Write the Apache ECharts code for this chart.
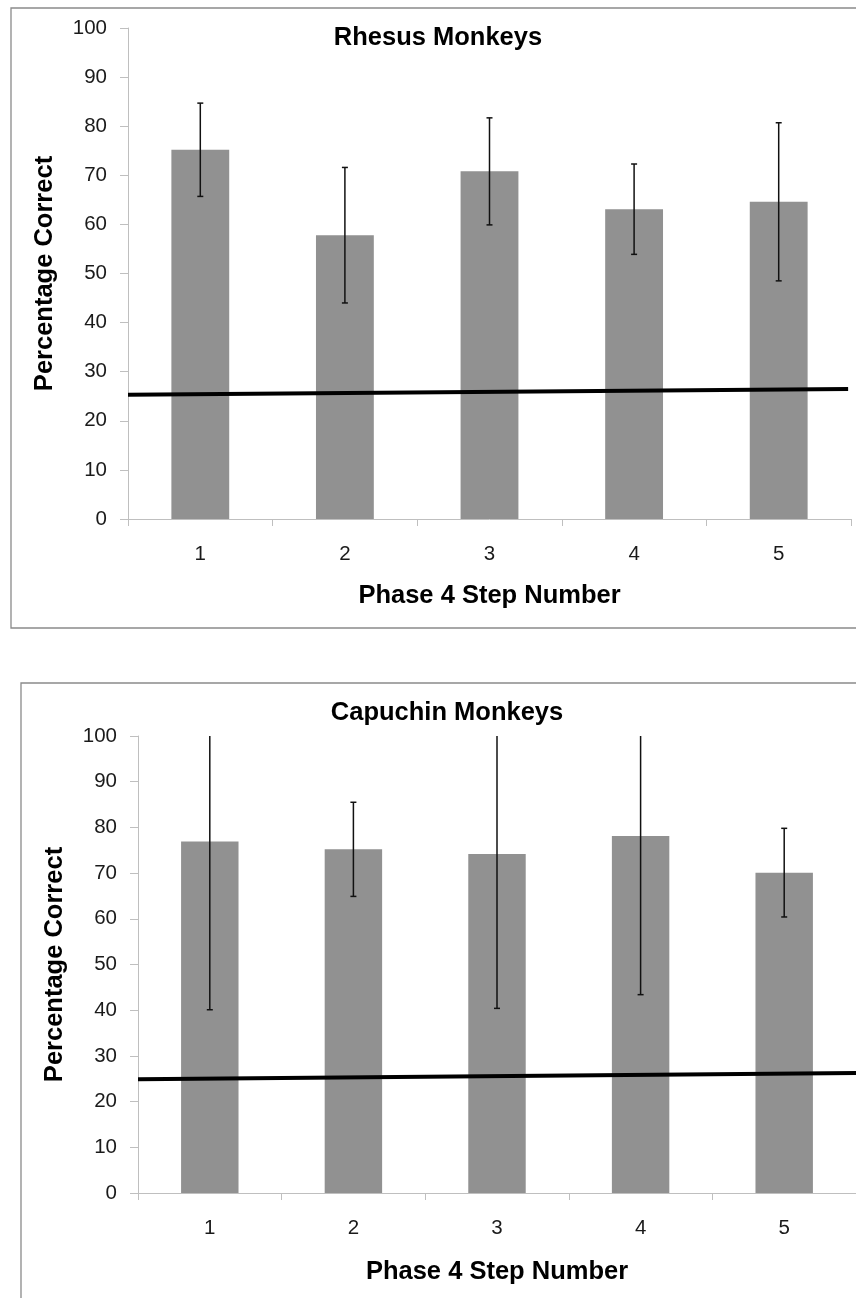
<!DOCTYPE html>
<html><head><meta charset="utf-8">
<script src="https://cdn.jsdelivr.net/npm/echarts@6/dist/echarts.min.js"></script>
<style>html,body{margin:0;padding:0;background:#fff}#c{width:856px;height:1298px}</style>
</head><body><div id="c"></div>
<script>
const steps = ['1', '2', '3', '4', '5'];
const rhesusMean = [75.2, 57.8, 70.8, 63.1, 64.6];
const rhesusErr = [9.5, 13.8, 10.9, 9.2, 16.1];
const capuchinMean = [76.9, 75.2, 74.2, 78.1, 70.1];
const capuchinErr = [36.8, 10.3, 33.8, 34.7, 9.7];
const rhesusChance = [[0, 25.3], [4.98, 26.5]];
const capuchinChance = [[0, 24.9], [5, 26.25]];
const yMin = 0, yMax = 100, yStep = 10;

const FONT = 'Liberation Sans';
const AX = '#bfbfbf';

function errData(mean, err) {
  return mean.map((m, i) => [i, m - err[i], m + err[i]]);
}

function errorItem(params, api) {
  const x = api.value(0), lo = api.value(1), hi = api.value(2);
  const pLo = api.coord([x, lo]);
  const pHi = api.coord([x, hi]);
  const cs = params.coordSys;
  const top = cs.y, bottom = cs.y + cs.height;
  const capHi = pHi[1] >= top - 0.5;
  const capLo = pLo[1] <= bottom + 0.5;
  const yHi = Math.max(pHi[1], top);
  const yLo = Math.min(pLo[1], bottom);
  const cx = pHi[0];
  const st = { stroke: '#111', lineWidth: 1.5 };
  const ch = [{ type: 'line', shape: { x1: cx, y1: yHi, x2: cx, y2: yLo }, style: st }];
  if (capHi) ch.push({ type: 'line', shape: { x1: cx - 3, y1: yHi, x2: cx + 3, y2: yHi }, style: st });
  if (capLo) ch.push({ type: 'line', shape: { x1: cx - 3, y1: yLo, x2: cx + 3, y2: yLo }, style: st });
  return { type: 'group', children: ch };
}

function catAxis(gi) {
  return {
    type: 'category', gridIndex: gi, data: steps,
    name: 'Phase 4 Step Number', nameLocation: 'middle', nameGap: gi === 0 ? 64 : 66,
    nameTextStyle: { fontFamily: FONT, fontWeight: 'bold', fontSize: 25.5, color: '#000' },
    axisLine: { show: true, lineStyle: { color: AX, width: 1 } },
    axisTick: { show: true, alignWithLabel: false, length: 7, lineStyle: { color: AX } },
    axisLabel: { margin: 25, fontFamily: FONT, fontSize: 20.5, color: '#1a1a1a' },
    splitLine: { show: false }
  };
}
function valAxis(gi) {
  return {
    type: 'value', gridIndex: gi, min: yMin, max: yMax, interval: yStep,
    name: 'Percentage Correct', nameLocation: 'middle', nameGap: 70, nameRotate: 90,
    nameTextStyle: { fontFamily: FONT, fontWeight: 'bold', fontSize: 25.5, color: '#000' },
    axisLine: { show: true, lineStyle: { color: AX, width: 1 } },
    axisTick: { show: true, length: 8, lineStyle: { color: AX } },
    axisLabel: { margin: 21, fontFamily: FONT, fontSize: 20.5, color: '#1a1a1a' },
    splitLine: { show: false }
  };
}
function hiddenX(gi) {
  return { type: 'value', gridIndex: gi, min: 0, max: 5, show: false };
}

const chart = echarts.init(document.getElementById('c'), null, { renderer: 'canvas' });
chart.setOption({
  backgroundColor: '#fff',
  animation: false,
  graphic: [
    { type: 'rect', shape: { x: 11, y: 8, width: 900, height: 620 }, style: { fill: 'none', stroke: '#8a8a8a', lineWidth: 1.3 }, z: -1 },
    { type: 'rect', shape: { x: 21, y: 683, width: 900, height: 700 }, style: { fill: 'none', stroke: '#8a8a8a', lineWidth: 1.3 }, z: -1 },
    { type: 'text', x: 438, y: 38, style: { text: 'Rhesus Monkeys', fontFamily: FONT, fontWeight: 'bold', fontSize: 25.5, fill: '#000', textAlign: 'center', textVerticalAlign: 'middle' } },
    { type: 'text', x: 447, y: 713, style: { text: 'Capuchin Monkeys', fontFamily: FONT, fontWeight: 'bold', fontSize: 25.5, fill: '#000', textAlign: 'center', textVerticalAlign: 'middle' } }
  ],
  grid: [
    { left: 128, top: 28, width: 723, height: 491 },
    { left: 138, top: 736, width: 723, height: 457 }
  ],
  xAxis: [catAxis(0), catAxis(1), hiddenX(0), hiddenX(1)],
  yAxis: [valAxis(0), valAxis(1)],
  series: [
    { type: 'bar', xAxisIndex: 0, yAxisIndex: 0, data: rhesusMean, barWidth: '40%', itemStyle: { color: '#919191' } },
    { type: 'custom', xAxisIndex: 0, yAxisIndex: 0, data: errData(rhesusMean, rhesusErr), renderItem: errorItem, z: 3 },
    { type: 'line', xAxisIndex: 2, yAxisIndex: 0, data: rhesusChance, symbol: 'none', lineStyle: { color: '#000', width: 4 }, z: 4 },
    { type: 'bar', xAxisIndex: 1, yAxisIndex: 1, data: capuchinMean, barWidth: '40%', itemStyle: { color: '#919191' } },
    { type: 'custom', xAxisIndex: 1, yAxisIndex: 1, data: errData(capuchinMean, capuchinErr), renderItem: errorItem, z: 3 },
    { type: 'line', xAxisIndex: 3, yAxisIndex: 1, data: capuchinChance, symbol: 'none', lineStyle: { color: '#000', width: 4 }, z: 4 }
  ]
});
</script></body></html>
